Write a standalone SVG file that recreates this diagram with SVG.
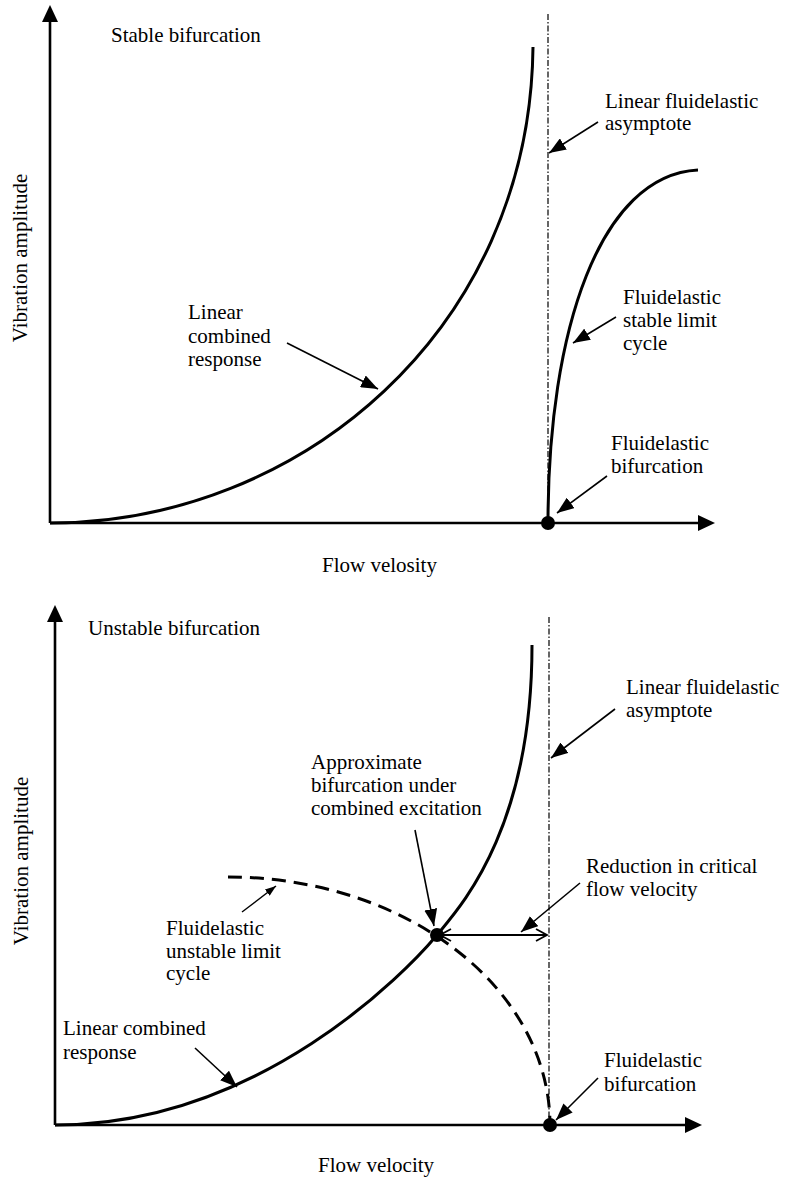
<svg xmlns="http://www.w3.org/2000/svg" width="785" height="1180" viewBox="0 0 785 1180">
<style>
text{font-family:"Liberation Serif","Times New Roman",serif;font-size:21px;fill:#000}
.axis{stroke:#000;stroke-width:2.6;fill:none}
.curve{stroke:#000;stroke-width:3;fill:none}
.dash{stroke:#000;stroke-width:3;fill:none;stroke-dasharray:14 8}
.asym{stroke:#000;stroke-width:1.2;fill:none;stroke-dasharray:6 2 1.5 2}
.lead{stroke:#000;stroke-width:1.6;fill:none;marker-end:url(#ah)}
.leads{stroke:#000;stroke-width:1.4;fill:none;marker-end:url(#ahs)}
.head{fill:#000}
</style>
<defs>
<marker id="ah" viewBox="0 0 17 13" refX="17" refY="6.5" markerWidth="17" markerHeight="13" markerUnits="userSpaceOnUse" orient="auto"><path d="M0,0 L17,6.5 L0,13 Z" fill="#000"/></marker>
<marker id="ahs" viewBox="0 0 11 8" refX="11" refY="4" markerWidth="11" markerHeight="8" markerUnits="userSpaceOnUse" orient="auto"><path d="M0,0 L11,4 L0,8 Z" fill="#000"/></marker>
</defs>

<g id="top-plot">
  <g id="top-axes">
    <line class="axis" x1="50" y1="523" x2="50" y2="20"/>
    <polygon class="head" points="50,5 42,22 58,22"/>
    <line class="axis" x1="50" y1="523" x2="700" y2="523"/>
    <polygon class="head" points="715,523 698,515 698,531"/>
  </g>
  <line id="top-asymptote" class="asym" x1="548" y1="14" x2="548" y2="523"/>
  <path id="top-linear-curve" class="curve" d="M50,523 C300,523 530,330 533,47"/>
  <path id="top-stable-cycle" class="curve" d="M548,523 C548,330 600,175 698,170"/>
  <circle id="top-bifurcation-dot" cx="548" cy="523" r="7" fill="#000"/>
  <text x="111" y="42">Stable bifurcation</text>
  <text transform="translate(27,258) rotate(-90)" text-anchor="middle">Vibration amplitude</text>
  <text x="322" y="572">Flow velosity</text>
  <g id="top-label-linear">
    <text x="188" y="319">Linear</text>
    <text x="188" y="343">combined</text>
    <text x="188" y="366">response</text>
  </g>
  <g id="top-label-asymptote">
    <text x="605" y="108">Linear fluidelastic</text>
    <text x="605" y="130">asymptote</text>
  </g>
  <g id="top-label-stable">
    <text x="623" y="304">Fluidelastic</text>
    <text x="623" y="327">stable limit</text>
    <text x="623" y="350">cycle</text>
  </g>
  <g id="top-label-bifurcation">
    <text x="611" y="450">Fluidelastic</text>
    <text x="611" y="473">bifurcation</text>
  </g>
</g>

<g id="bottom-plot">
  <g id="bottom-axes">
    <line class="axis" x1="55" y1="1125" x2="55" y2="620"/>
    <polygon class="head" points="55,605 47,622 63,622"/>
    <line class="axis" x1="55" y1="1125" x2="688" y2="1125"/>
    <polygon class="head" points="702,1125 685,1117 685,1133"/>
  </g>
  <line id="bottom-asymptote" class="asym" x1="549" y1="617" x2="549" y2="1125"/>
  <path id="bottom-linear-curve" class="curve" d="M55,1125 C260,1125 407,971 437,935 C460,907 532,830 532,645"/>
  <path id="bottom-unstable-cycle" class="dash" d="M228,877 A322,248 0 0 1 550,1125"/>
  <circle id="approx-dot" cx="437" cy="935" r="7" fill="#000"/>
  <circle id="bottom-bifurcation-dot" cx="550" cy="1125" r="7" fill="#000"/>
  <g id="reduction-arrow" stroke="#000" stroke-width="1.8" fill="none">
    <line x1="440" y1="935" x2="547" y2="935"/>
    <polyline points="536,929 547,935 536,941"/>
    <polyline points="451,929 440,935 451,941"/>
  </g>
  <text x="88" y="635">Unstable bifurcation</text>
  <text transform="translate(28,861) rotate(-90)" text-anchor="middle">Vibration amplitude</text>
  <text x="318" y="1172">Flow velocity</text>
  <g id="bottom-label-approx">
    <text x="311" y="769">Approximate</text>
    <text x="311" y="792">bifurcation under</text>
    <text x="311" y="815">combined excitation</text>
  </g>
  <g id="bottom-label-asymptote">
    <text x="626" y="694">Linear fluidelastic</text>
    <text x="626" y="717">asymptote</text>
  </g>
  <g id="bottom-label-reduction">
    <text x="586" y="873">Reduction in critical</text>
    <text x="586" y="896">flow velocity</text>
  </g>
  <g id="bottom-label-unstable">
    <text x="166" y="935">Fluidelastic</text>
    <text x="166" y="958">unstable limit</text>
    <text x="166" y="980">cycle</text>
  </g>
  <g id="bottom-label-linear">
    <text x="63" y="1035">Linear combined</text>
    <text x="63" y="1059">response</text>
  </g>
  <g id="bottom-label-bifurcation">
    <text x="604" y="1067">Fluidelastic</text>
    <text x="604" y="1091">bifurcation</text>
  </g>
</g>

<g id="connectors">
  <line class="lead" x1="287" y1="343" x2="378" y2="389"/>
  <line class="lead" x1="598" y1="122" x2="549" y2="153"/>
  <line class="lead" x1="616" y1="317" x2="573" y2="343"/>
  <line class="lead" x1="607" y1="476" x2="557" y2="513"/>
  <line class="lead" x1="415" y1="830" x2="434" y2="926"/>
  <line class="lead" x1="615" y1="709" x2="551" y2="758"/>
  <line class="lead" x1="580" y1="883" x2="521" y2="932"/>
  <line class="leads" x1="242" y1="912" x2="276" y2="886"/>
  <line class="lead" x1="195" y1="1048" x2="237" y2="1087"/>
  <line class="lead" x1="598" y1="1078" x2="556" y2="1120"/>
</g>
</svg>
